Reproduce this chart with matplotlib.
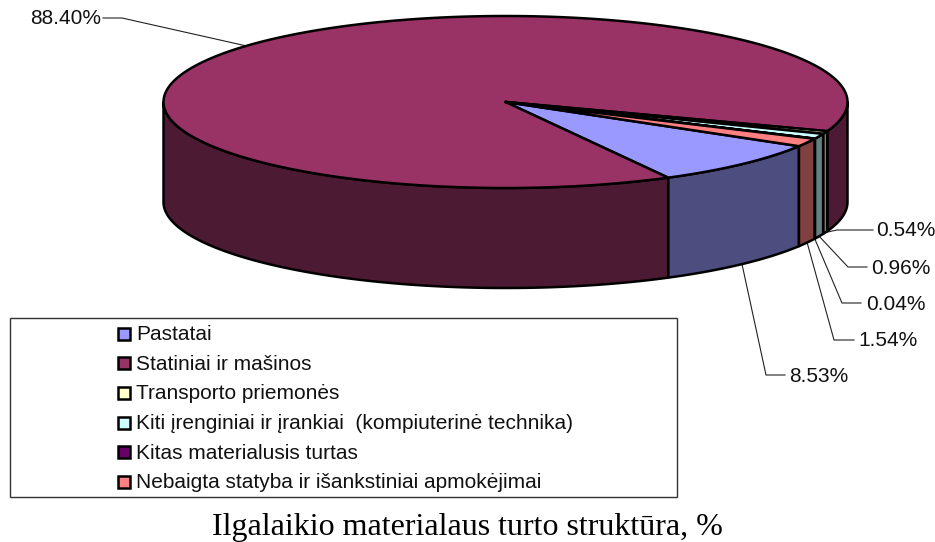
import numpy as np
import matplotlib
matplotlib.use('Agg')
import matplotlib.pyplot as plt
from matplotlib.patches import Polygon, Rectangle

categories = ['Pastatai', 'Statiniai ir mašinos', 'Transporto priemonės',
              'Kiti įrenginiai ir įrankiai  (kompiuterinė technika)',
              'Kitas materialusis turtas',
              'Nebaigta statyba ir išankstiniai apmokėjimai']
values = [8.53, 88.40, 0.54, 0.96, 0.04, 1.54]
top_colors = ['#9999FF', '#993366', '#FFFFCC', '#CCFFFF', '#660066', '#FF8080']
side_colors = ['#4D4D80', '#4D1A33', '#808066', '#668080', '#330033', '#804040']
title = 'Ilgalaikio materialaus turto struktūra, %'

# pie geometry in pixels
cx, cy, rx, ry, depth = 505.5, 102, 342, 86, 100
start_angle = 30.9

# where each label goes: elbow x, elbow y, tail end x, text x (same order as values)
elbows = [(766, 375, 785, 789), (122, 18, 103, 30), (837, 230, 873, 876),
          (848, 267, 867, 871), (842, 303, 861, 866), (834, 340, 854, 858)]


def ellipse_pts(a0, a1, dy=0):
    t = np.radians(np.linspace(a0, a1, max(int(abs(a1 - a0)) * 2, 2)))
    return np.column_stack([cx + rx * np.cos(t), cy + dy + ry * np.sin(t)])


def draw_side(ax, a0, a1, color):
    # only the front half of the rim can be seen
    for lo, hi in [(0, 180), (360, 540)]:
        s, e = max(a0, lo), min(a1, hi)
        if e > s:
            pts = np.vstack([ellipse_pts(s, e), ellipse_pts(e, s, depth)])
            ax.add_patch(Polygon(pts, closed=True, fc=color, ec='black',
                                 lw=1.8, joinstyle='round', zorder=2))


fig = plt.figure(figsize=(9.35, 5.42), dpi=100)
ax = fig.add_axes([0, 0, 1, 1])
ax.set_xlim(0, 935)
ax.set_ylim(542, 0)
ax.axis('off')

sweeps = np.array(values) / sum(values) * 360
starts = start_angle + np.concatenate([[0], np.cumsum(sweeps)[:-1]])

for a, sw, tc, sc, el, v in zip(starts, sweeps, top_colors, side_colors, elbows, values):
    draw_side(ax, a, a + sw, sc)
    pts = np.vstack([[cx, cy], ellipse_pts(a, a + sw)])
    ax.add_patch(Polygon(pts, closed=True, fc=tc, ec='black', lw=1.8,
                         joinstyle='round', zorder=3))

    # leader line from the middle of the slice
    mid = np.radians(a + sw / 2)
    px, py = cx + rx * np.cos(mid), cy + ry * np.sin(mid)
    if np.sin(mid) > 0:
        py += depth
    ex, ey, tail, tx = el
    ax.plot([px, ex, tail], [py, ey, ey], color='#222222', lw=0.8, zorder=1)
    ax.text(tx, ey + 1, f'{v:.2f}%', fontsize=15, family='Liberation Sans',
            va='center', ha='left', color='#111111')

# legend box
ax.add_patch(Rectangle((10, 318), 667, 179, fc='white', ec='#333333', lw=1, zorder=1))
rows = np.linspace(333.5, 482, len(categories))
for y, name, tc in zip(rows, categories, top_colors):
    ax.add_patch(Rectangle((118, y - 6), 12, 12, fc=tc, ec='black', lw=1.8, zorder=3))
    ax.text(136, y + 1, name, fontsize=15, family='Liberation Sans', va='center',
            ha='left', color='#111111')

ax.text(467.5, 535, title, fontsize=23, family='Liberation Serif', va='baseline',
        ha='center', color='black')

fig.savefig('out.png', dpi=100)
